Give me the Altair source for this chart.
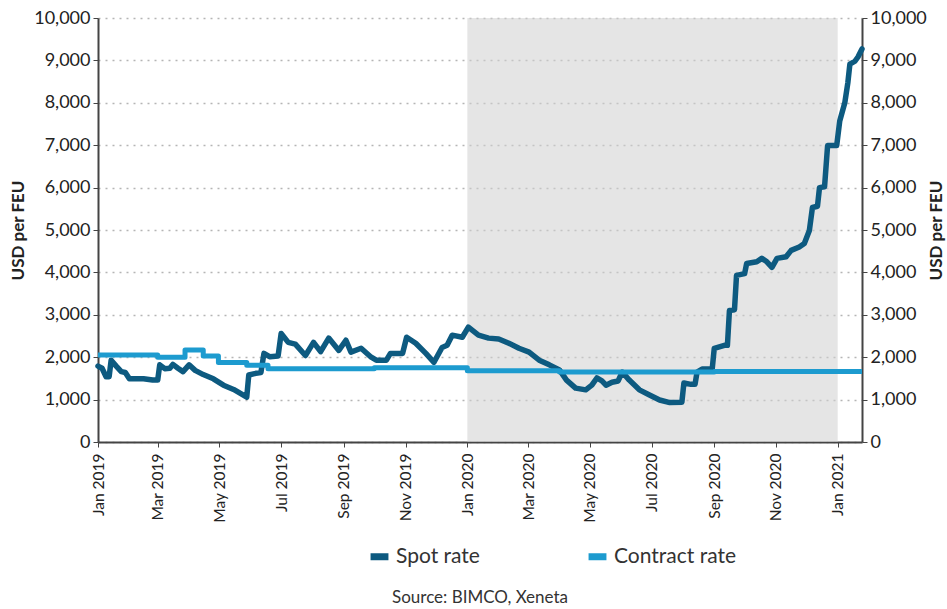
import altair as alt
import pandas as pd

# ---------------- data ----------------
spot_dates = [
    "2019-01-01", "2019-01-05", "2019-01-09", "2019-01-12", "2019-01-14", "2019-01-19",
    "2019-01-24", "2019-01-28", "2019-02-01", "2019-02-15", "2019-02-24", "2019-03-01",
    "2019-03-03", "2019-03-08", "2019-03-13", "2019-03-16", "2019-03-21", "2019-03-26",
    "2019-04-01", "2019-04-07", "2019-04-15", "2019-04-25", "2019-05-05", "2019-05-15",
    "2019-05-28", "2019-05-30", "2019-06-06", "2019-06-11", "2019-06-14", "2019-06-20",
    "2019-06-28", "2019-07-01", "2019-07-08", "2019-07-15", "2019-07-25", "2019-08-02",
    "2019-08-09", "2019-08-17", "2019-08-27", "2019-09-03", "2019-09-08", "2019-09-18",
    "2019-09-28", "2019-10-03", "2019-10-13", "2019-10-17", "2019-10-29", "2019-11-02",
    "2019-11-11", "2019-11-21", "2019-11-29", "2019-12-07", "2019-12-12", "2019-12-17",
    "2019-12-27", "2020-01-02", "2020-01-12", "2020-01-22", "2020-02-01", "2020-02-11",
    "2020-02-21", "2020-03-02", "2020-03-12", "2020-03-22", "2020-04-01", "2020-04-08",
    "2020-04-17", "2020-04-27", "2020-05-03", "2020-05-08", "2020-05-13", "2020-05-17",
    "2020-05-23", "2020-05-29", "2020-06-02", "2020-06-09", "2020-06-19", "2020-06-29",
    "2020-07-09", "2020-07-19", "2020-07-31", "2020-08-02", "2020-08-09", "2020-08-13",
    "2020-08-15", "2020-08-20", "2020-08-30", "2020-09-01", "2020-09-11", "2020-09-14",
    "2020-09-16", "2020-09-21", "2020-09-23", "2020-10-01", "2020-10-03", "2020-10-13",
    "2020-10-18", "2020-10-23", "2020-10-28", "2020-11-02", "2020-11-11", "2020-11-16",
    "2020-11-24", "2020-11-29", "2020-12-04", "2020-12-07", "2020-12-12", "2020-12-14",
    "2020-12-19", "2020-12-22", "2020-12-31", "2021-01-03", "2021-01-08", "2021-01-11",
    "2021-01-13", "2021-01-18", "2021-01-21", "2021-01-25",
]
spot_values = [
    1790, 1740, 1540, 1540, 1930, 1790,
    1660, 1640, 1490, 1490, 1460, 1460,
    1820, 1730, 1740, 1830, 1740, 1660,
    1820, 1690, 1590, 1490, 1340, 1240,
    1060, 1580, 1620, 1640, 2090, 2010,
    2030, 2560, 2350, 2310, 2040, 2350,
    2130, 2450, 2160, 2400, 2120, 2210,
    2000, 1930, 1930, 2090, 2090, 2470,
    2330, 2090, 1880, 2230, 2280, 2520,
    2470, 2710, 2520, 2450, 2430, 2330,
    2210, 2120, 1930, 1820, 1700, 1460,
    1270, 1230, 1340, 1510, 1440, 1340,
    1410, 1440, 1650, 1460, 1230, 1110,
    990, 930, 940, 1390, 1360, 1360,
    1650, 1720, 1730, 2210, 2280, 2280,
    3100, 3120, 3930, 3970, 4210, 4250,
    4330, 4250, 4120, 4330, 4370, 4520,
    4600, 4680, 4990, 5530, 5560, 6000,
    6020, 6990, 6990, 7570, 8000, 8470,
    8910, 8980, 9080, 9270,
]

contract_dates = [
    "2019-01-01", "2019-03-01", "2019-03-28", "2019-04-15", "2019-04-30", "2019-05-28",
    "2019-06-18", "2019-10-01", "2020-01-01", "2020-04-01", "2020-09-01", "2021-01-25",
]
contract_values = [
    2050, 2000, 2170, 2030, 1875, 1810,
    1730, 1750, 1680, 1650, 1660, 1660,
]

series_names = ["Spot rate", "Contract rate"]
series_colors = ["#0d5a80", "#1d9bcf"]

shade_start = ["2020-01-01"]
shade_end = ["2021-01-01"]
shade_low = [0]
shade_high = [10000]

y_ticks = [0, 1000, 2000, 3000, 4000, 5000, 6000, 7000, 8000, 9000, 10000]

# ---------------- tables ----------------
lines_df = pd.DataFrame({
    "date": spot_dates + contract_dates,
    "value": spot_values + contract_values,
    "series": [series_names[0]] * len(spot_dates) + [series_names[1]] * len(contract_dates),
})
shade_df = pd.DataFrame({"start": shade_start, "end": shade_end, "lo": shade_low, "hi": shade_high})

FONT = "Lato"
TXT = "#333333"

x_scale = alt.Scale(domain=[alt.DateTime(year=2019, month=1, date=1),
                            alt.DateTime(year=2021, month=1, date=25)])
y_scale = alt.Scale(domain=[0, 10000], nice=False)

x_axis = alt.Axis(
    title=None, format="%b %Y", tickCount={"interval": "month", "step": 2},
    labelAngle=270, labelFontSize=15.5, labelPadding=6, tickSize=5, grid=False,
    domainWidth=2, domainColor="#444444",
)
y_axis_left = alt.Axis(
    title="USD per FEU", values=y_ticks, format=",d", labelFontSize=18, labelPadding=3,
    tickSize=5, grid=True, gridDash=[2, 5], gridColor="#b5b5b5", gridWidth=1.5,
    titleFontSize=17, titleFontWeight="bold", titlePadding=6, domainWidth=2,
    domainColor="#444444",
)
y_axis_right = alt.Axis(
    title="USD per FEU", orient="right", values=y_ticks, format=",d", labelFontSize=18,
    labelPadding=3, tickSize=5, grid=False, titleFontSize=17, titleFontWeight="bold",
    titleAngle=270, titleX=83, domainWidth=2, domainColor="#444444",
)

color = alt.Color(
    "series:N",
    scale=alt.Scale(domain=series_names, range=series_colors),
    legend=alt.Legend(
        title=None, orient="none", legendX=269, legendY=526, direction="horizontal",
        symbolType="stroke", symbolStrokeWidth=7, symbolSize=320, labelFontSize=21,
        labelFont=FONT, labelColor=TXT, columnPadding=94, labelOffset=4,
    ),
)

shade = alt.Chart(shade_df).mark_rect(color="#cfcfcf", opacity=0.55).encode(
    x=alt.X("start:T", scale=x_scale, axis=x_axis),
    x2="end:T",
    y=alt.Y("lo:Q", scale=y_scale, axis=y_axis_left),
    y2="hi:Q",
)

spot = alt.Chart(lines_df).transform_filter(
    alt.datum.series == series_names[0]
).mark_line(strokeWidth=5.5, strokeJoin="round", strokeCap="round").encode(
    x=alt.X("date:T", scale=x_scale, axis=x_axis),
    y=alt.Y("value:Q", scale=y_scale, axis=y_axis_left),
    color=color,
)

contract = alt.Chart(lines_df).transform_filter(
    alt.datum.series == series_names[1]
).mark_line(strokeWidth=5, interpolate="step-after", strokeJoin="round").encode(
    x=alt.X("date:T", scale=x_scale, axis=x_axis),
    y=alt.Y("value:Q", scale=y_scale, axis=y_axis_left),
    color=color,
)

left = alt.layer(shade, spot, contract)

right = alt.Chart(lines_df).mark_line(opacity=0).encode(
    x=alt.X("date:T", scale=x_scale, axis=x_axis),
    y=alt.Y("value:Q", scale=y_scale, axis=y_axis_right),
)

chart = alt.layer(left, right).resolve_scale(y="independent").properties(
    width=764, height=424,
    autosize=alt.AutoSizeParams(type="none"),
    padding={"left": 98, "top": 18, "right": 85, "bottom": 167},
    title=alt.TitleParams(
        "Source: BIMCO, Xeneta", orient="bottom", anchor="middle", fontSize=17,
        fontWeight="normal", font=FONT, color=TXT, offset=19,
    ),
).configure_axis(
    labelFont=FONT, titleFont=FONT, labelColor="#222222", titleColor="#222222",
    tickColor="#444444",
).configure_view(stroke=None)

chart.save("out.html", embed_options={"renderer": "svg", "actions": False})
